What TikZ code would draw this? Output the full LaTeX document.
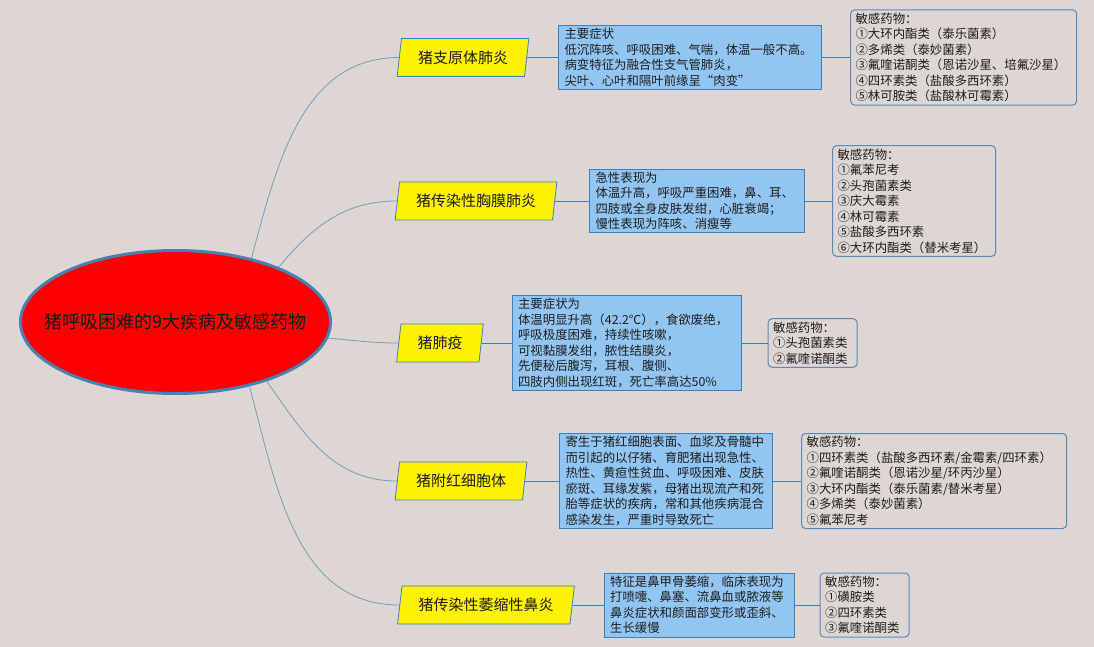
\documentclass[tikz,border=0pt]{standalone}
\usepackage{fontspec}
\setmainfont{Noto Sans CJK SC}
\usetikzlibrary{positioning,shapes.geometric}

\definecolor{bgcol}{RGB}{221,214,211}
\definecolor{linkcol}{RGB}{118,156,192}
\definecolor{edgecol}{RGB}{62,128,186}
\definecolor{drugedge}{RGB}{92,138,182}
\definecolor{symfill}{RGB}{146,197,242}
\definecolor{hubedge}{RGB}{70,130,180}
\definecolor{txtcol}{RGB}{30,30,30}

\tikzset{
	hub/.style={ellipse, draw=hubedge, line width=3pt, fill=red, inner sep=0pt, minimum width=310pt, minimum height=143pt, text=black!75!teal, font=\fontsize{18}{20}\selectfont},
	disease/.style={trapezium, trapezium left angle=78, trapezium right angle=102, trapezium stretches=true, draw=edgecol, line width=0.8pt, fill=yellow, minimum height=38pt, inner xsep=16.5pt, font=\fontsize{15}{18}\selectfont, text=txtcol},
	symptom/.style={rectangle, draw=edgecol, line width=1pt, fill=symfill, align=left, text width=#1, inner xsep=6pt, inner ysep=3pt, font=\fontsize{12.4}{15.5}\selectfont, text=txtcol},
	drug/.style={rectangle, rounded corners=4pt, draw=drugedge, line width=1pt, align=left, text width=#1, inner xsep=5pt, inner ysep=3pt, font=\fontsize{12.4}{15.5}\selectfont, text=txtcol},
	curvelink/.style={draw=linkcol, line width=0.8pt},
	straightlink/.style={draw=edgecol, line width=1pt},
}

\begin{document}
\begin{tikzpicture}[x=1pt, y=-1pt]
	\useasboundingbox[fill=bgcol] (0,0) rectangle (1094,647);
	\node[hub] (h) at (175.5,322) {\makebox[0pt]{猪呼吸困难的9大疾病及敏感药物}};

	\node[disease] (d1) at (463,57.5) {猪支原体肺炎};
	\node[symptom=251pt, right=31pt of d1] (s1) {主要症状\\低沉阵咳、呼吸困难、气喘，体温一般不高。\\病变特征为融合性支气管肺炎，\\尖叶、心叶和隔叶前缘呈“肉变”};
	\node[drug=216pt, right=28pt of s1] (m1) {敏感药物：\\①大环内酯类（泰乐菌素）\\②多烯类（泰妙菌素）\\③氟喹诺酮类（恩诺沙星、培氟沙星）\\④四环素类（盐酸多西环素）\\⑤林可胺类（盐酸林可霉素）};

	\node[disease] (d2) at (476,201) {猪传染性胸膜肺炎};
	\node[symptom=203pt, right=34pt of d2] (s2) {急性表现为\\体温升高，呼吸严重困难，鼻、耳、\\四肢或全身皮肤发绀，心脏衰竭；\\慢性表现为阵咳、消瘦等};
	\node[drug=153pt, right=27pt of s2] (m2) {敏感药物：\\①氟苯尼考\\②头孢菌素类\\③庆大霉素\\④林可霉素\\⑤盐酸多西环素\\⑥大环内酯类（替米考星）};

	\node[disease] (d3) at (440,343) {猪肺疫};
	\node[symptom=217pt, right=30pt of d3] (s3) {主要症状为\\体温明显升高（42.2℃），食欲废绝，\\呼吸极度困难，持续性咳嗽，\\可视黏膜发绀，脓性结膜炎，\\先便秘后腹泻，耳根、腹侧、\\四肢内侧出现红斑，死亡率高达50\%};
	\node[drug=79pt, right=26pt of s3] (m3) {敏感药物：\\①头孢菌素类\\②氟喹诺酮类};

	\node[disease] (d4) at (461,481) {猪附红细胞体};
	\node[symptom=201pt, right=34pt of d4] (s4) {寄生于猪红细胞表面、血浆及骨髓中\\而引起的以仔猪、育肥猪出现急性、\\热性、黄疸性贫血、呼吸困难、皮肤\\瘀斑、耳缘发紫，母猪出现流产和死\\胎等症状的疾病，常和其他疾病混合\\感染发生，严重时导致死亡};
	\node[drug=255pt, right=28pt of s4] (m4) {敏感药物：\\①四环素类（盐酸多西环素/金霉素/四环素）\\②氟喹诺酮类（恩诺沙星/环丙沙星）\\③大环内酯类（泰乐菌素/替米考星）\\④多烯类（泰妙菌素）\\⑤氟苯尼考};

	\node[disease] (d5) at (486,605) {猪传染性萎缩性鼻炎};
	\node[symptom=178pt, right=31pt of d5] (s5) {特征是鼻甲骨萎缩，临床表现为\\打喷嚏、鼻塞、流鼻血或脓液等\\鼻炎症状和颜面部变形或歪斜、\\生长缓慢};
	\node[drug=79pt, right=25pt of s5] (m5) {敏感药物：\\①磺胺类\\②四环素类\\③氟喹诺酮类};

	\draw[curvelink] (h.40) to[out=75, in=180] (d1.west);
	\draw[curvelink] (h.28) to[out=50, in=180] (d2.west);
	\draw[curvelink] (h.-6) to[out=-5, in=180] (d3.west);
	\draw[curvelink] (h.-33) to[out=-55, in=180] (d4.west);
	\draw[curvelink] (h.-41) to[out=-75, in=180] (d5.west);

	\foreach \i in {1,...,5} {
		\draw[straightlink] (d\i.east) -- (s\i.west);
		\draw[straightlink] (s\i.east) -- (m\i.west);
	}
\end{tikzpicture}
\end{document}
